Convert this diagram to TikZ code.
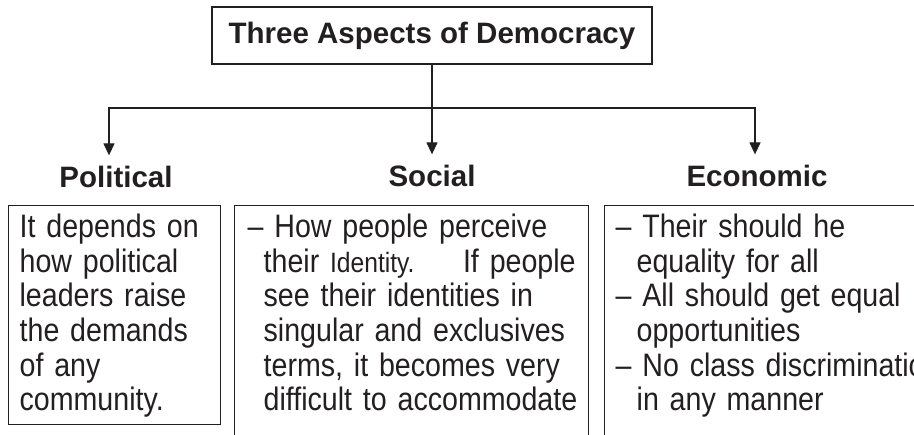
\documentclass[tikz,border=0pt]{standalone}
\usepackage{fontspec}
\setmainfont{Liberation Sans}
\newfontfamily\boxfont[FakeStretch=0.88]{Liberation Sans}
\usetikzlibrary{arrows.meta}
\definecolor{ink}{HTML}{231F20}
\begin{document}
\begin{tikzpicture}[x=1pt, y=-1pt, color=ink, line width=1.3pt,
  head/.style={font=\bfseries\fontsize{29.5}{34}\selectfont, text height=21pt, text depth=6pt, inner ysep=11pt, anchor=base},
  textbox/.style={draw, anchor=north west, inner ysep=0pt, text height=32pt, align=left, font=\boxfont\fontsize{32.5}{34.6}\selectfont},
  arr/.style={-{Triangle[width=11pt,length=12pt]}}]
\useasboundingbox (0,0) rectangle (914,435);
\clip (0,0) rectangle (914,435);
% title and the three aspects
\node[draw, minimum width=440pt, minimum height=57pt, font=\bfseries\fontsize{29.5}{34}\selectfont] (title) at (432,35.5) {Three Aspects of Democracy};
\node[head] (political) at (116,188) {Political};
\node[head] (social) at (432,187) {Social};
\node[head] (economic) at (757,187) {Economic};
% connectors
\coordinate (jc) at (432,108);
\coordinate (jl) at (109,108);
\coordinate (jr) at (755,108);
\draw (title.south) -- (jc);
\draw[arr] (jc) -| (jl |- political.north);
\draw[arr] (jc) -- (social.north);
\draw[arr] (jc) -| (jr |- economic.north);
% boxes
\node[textbox, inner xsep=11pt, text width=190pt, text depth=187pt] (polbox) at (8,205)
  {\mbox{It depends on}\\how political\\leaders raise\\the demands\\of any\\community.};
\node[textbox, inner xsep=13pt, text width=328pt, text depth=250pt] (socbox) at (234,205)
  {– How people perceive\\
   \hspace*{16pt}their {\fontsize{28}{34.6}\selectfont Identity.}\hfill If people\\
   \hspace*{16pt}see their identities in\\
   \hspace*{16pt}\mbox{singular and exclusives}\\
   \hspace*{16pt}terms, it becomes very\\
   \hspace*{16pt}\mbox{difficult to accommodate}};
\node[textbox, inner xsep=11pt, text width=318pt, text depth=250pt] (ecobox) at (604,205)
  {– Their should he\\
   \hspace*{21pt}equality for all\\
   – All should get equal\\
   \hspace*{21pt}opportunities\\
   \mbox{– No class discrimination}\\
   \hspace*{21pt}in any manner};
\end{tikzpicture}
\end{document}
